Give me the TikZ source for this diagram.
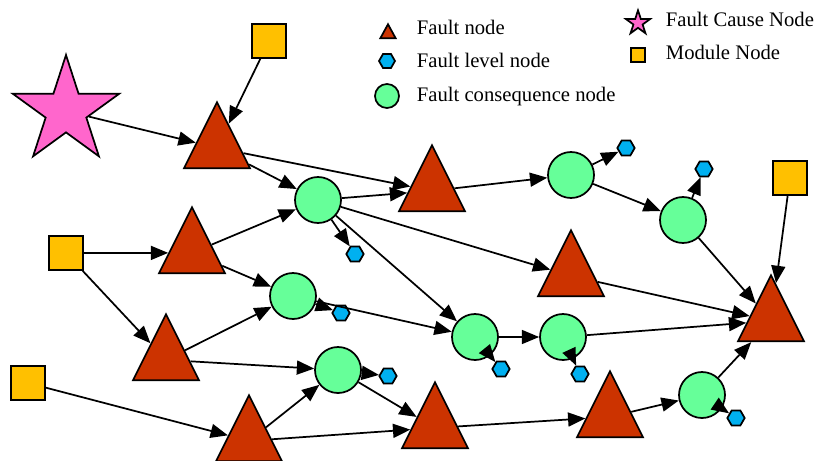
\documentclass[tikz,border=0pt]{standalone}
\usepackage{fontspec}
\setmainfont{Liberation Serif}
\usetikzlibrary{arrows.meta, shapes.geometric}

\definecolor{faultred}{HTML}{CC3300}
\definecolor{levelblue}{HTML}{00B0F0}
\definecolor{consgreen}{HTML}{66FF99}
\definecolor{causepink}{HTML}{FF66CC}
\definecolor{moduleyellow}{HTML}{FFC000}

\tikzset{
  fault/.style={isosceles triangle, isosceles triangle stretches, shape border rotate=90,
    draw, fill=faultred, inner sep=0pt, minimum width=49.5pt, minimum height=49.5pt, anchor=apex},
  level/.style={regular polygon, regular polygon sides=6, draw, fill=levelblue,
    inner sep=0pt, minimum size=13pt},
  cons/.style={circle, draw, fill=consgreen, inner sep=0pt, minimum size=34.5pt},
  cause/.style={star, star points=5, star point ratio=2.62, draw, fill=causepink,
    inner sep=0pt, minimum size=84pt},
  module/.style={rectangle, draw, fill=moduleyellow, inner sep=0pt, minimum size=25.5pt},
  link/.style={-{Triangle[length=13pt, width=10.5pt]}},
  legtext/.style={anchor=base west, inner sep=0pt, font=\fontsize{15.5}{18}\selectfont}
}

\begin{document}
\begin{tikzpicture}[x=0.75pt, y=-0.75pt, line width=1.3pt]
  \useasboundingbox (0,0) rectangle (816,460);

  % cause and module nodes
  \node[cause] (s1) at (66,111) {};
  \node[module] (m1) at (269,41) {};
  \node[module] (m2) at (66,253) {};
  \node[module] (m3) at (28,383) {};
  \node[module] (m4) at (790,178) {};

  % fault nodes (placed by apex)
  \node[fault] (t1) at (217,100) {};
  \node[fault] (t2) at (432,143) {};
  \node[fault] (t3) at (192,205) {};
  \node[fault] (t4) at (571,228) {};
  \node[fault] (t5) at (166,312) {};
  \node[fault] (t6) at (771,273) {};
  \node[fault] (t7) at (249,393) {};
  \node[fault] (t8) at (435,380) {};
  \node[fault] (t9) at (610,369) {};

  % fault consequence nodes
  \node[cons] (c1) at (318,200) {};
  \node[cons] (c2) at (571,175) {};
  \node[cons] (c3) at (683,220) {};
  \node[cons] (c4) at (293,296) {};
  \node[cons] (c5) at (475,337) {};
  \node[cons] (c6) at (563,337) {};
  \node[cons] (c7) at (338,370) {};
  \node[cons] (c8) at (702,395) {};

  % fault level nodes
  \node[level] (h1) at (626,148) {};
  \node[level] (h2) at (704,169) {};
  \node[level] (h3) at (355,254) {};
  \node[level] (h4) at (341,313) {};
  \node[level] (h5) at (501,369) {};
  \node[level] (h6) at (580,374) {};
  \node[level] (h7) at (388,376) {};
  \node[level] (h8) at (736,418) {};

  % connectors
  \draw[link] (s1) -- (t1);
  \draw[link] (m1) -- (t1);
  \draw[link] (t1) -- (c1);
  \draw[link] (t1) -- (t2);
  \draw[link] (c1) -- (t2);
  \draw[link] (c1) -- (h3);
  \draw[link] (c1) -- (t4);
  \draw[link] (c1) -- (c5);
  \draw[link] (t2) -- (c2);
  \draw[link] (c2) -- (h1);
  \draw[link] (c2) -- (c3);
  \draw[link] (c3) -- (h2);
  \draw[link] (c3) -- (t6);
  \draw[link] (m4) -- (t6);
  \draw[link] (t4) -- (t6);
  \draw[link] (m2) -- (t3);
  \draw[link] (m2) -- (t5);
  \draw[link] (t3) -- (c1);
  \draw[link] (t3) -- (c4);
  \draw[link] (t5) -- (c4);
  \draw[link] (t5) -- (c7);
  \draw[link] (c4) -- (h4);
  \draw[link] (c4) -- (c5);
  \draw[link] (c5) -- (c6);
  \draw[link] (c5) -- (h5);
  \draw[link] (c6) -- (h6);
  \draw[link] (c6) -- (t6);
  \draw[link] (m3) -- (t7);
  \draw[link] (t7) -- (c7);
  \draw[link] (t7) -- (t8);
  \draw[link] (c7) -- (h7);
  \draw[link] (c7) -- (t8);
  \draw[link] (t8) -- (t9);
  \draw[link] (t9) -- (c8);
  \draw[link] (c8) -- (t6);
  \draw[link] (c8) -- (h8);

  % legend
  \node[fault, minimum width=11.5pt, minimum height=10.5pt] (lt) at (388,22) {};
  \node[level, minimum size=12pt] (lh) at (387,61) {};
  \node[cons, minimum size=18pt] (lc) at (387,96) {};
  \node[cause, minimum size=19pt] (ls) at (638,23) {};
  \node[module, minimum size=10.5pt] (lm) at (638,55) {};
  \node[legtext] (ltt) at (416,35) {Fault node};
  \node[legtext] (lht) at (416,67) {Fault level node};
  \node[legtext] (lct) at (416,101) {Fault consequence node};
  \node[legtext] (lst) at (665,27) {Fault Cause Node};
  \node[legtext] (lmt) at (665,60) {Module Node};
\end{tikzpicture}
\end{document}
